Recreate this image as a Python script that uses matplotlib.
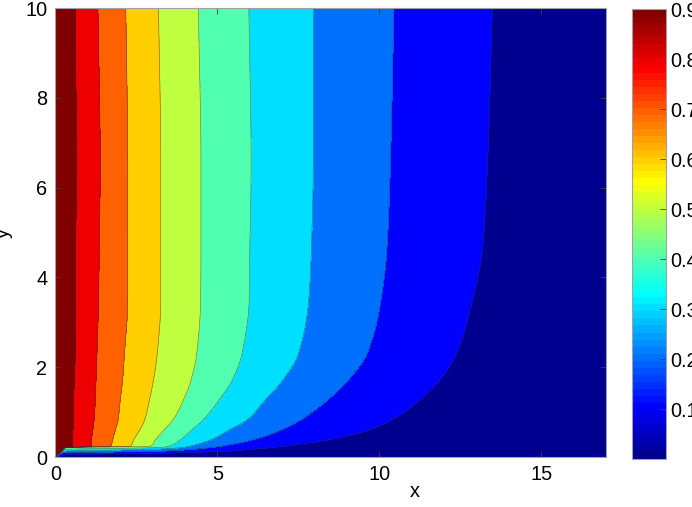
import numpy as np
import matplotlib
matplotlib.use("Agg")
import matplotlib.pyplot as plt
from matplotlib.colors import ListedColormap, Normalize
from matplotlib.cm import ScalarMappable

plt.rcParams["font.family"] = ["Liberation Sans", "DejaVu Sans"]

# contour levels and the y rows at which the contour x-positions were read
levels = [0.0, 0.1, 0.2, 0.3, 0.4, 0.5, 0.6, 0.7, 0.8, 0.9, 1.0]
row_y = [0.0, 0.05, 0.09, 0.13, 0.17, 0.21, 0.24, 0.38, 0.6, 0.82, 1.27, 1.7, 2.3, 3.5, 4.6, 6.5, 10.0]

# x position of each contour line along the rows above
x_09 = [0.000, 0.050, 0.10, 0.16, 0.21, 0.26, 0.52, 0.53, 0.54, 0.55, 0.56, 0.58, 0.61, 0.63, 0.63, 0.64, 0.62]
x_08 = [0.001, 0.055, 0.11, 0.17, 0.22, 0.28, 1.10, 1.11, 1.15, 1.19, 1.23, 1.25, 1.28, 1.33, 1.35, 1.38, 1.31]
x_07 = [0.002, 0.060, 0.12, 0.18, 0.23, 0.30, 1.70, 1.76, 1.85, 1.93, 2.00, 2.07, 2.13, 2.23, 2.23, 2.23, 2.17]
x_06 = [0.003, 0.065, 0.13, 0.19, 0.24, 0.32, 2.30, 2.41, 2.60, 2.75, 2.90, 3.02, 3.14, 3.25, 3.25, 3.25, 3.18]
x_05 = [0.004, 0.070, 0.14, 0.20, 0.25, 0.34, 2.93, 3.08, 3.35, 3.62, 3.95, 4.18, 4.36, 4.48, 4.49, 4.49, 4.41]
x_04 = [0.005, 0.075, 0.15, 0.21, 0.27, 3.20, 3.50, 3.85, 4.20, 4.55, 5.05, 5.45, 5.76, 5.98, 6.00, 6.04, 5.97]
x_03 = [0.006, 0.080, 0.16, 0.23, 3.00, 3.90, 4.15, 4.78, 5.35, 5.90, 6.47, 7.00, 7.50, 7.82, 7.90, 7.96, 7.97]
x_02 = [0.007, 0.085, 0.20, 3.30, 4.20, 4.80, 5.10, 6.07, 6.95, 7.55, 8.40, 9.02, 9.62, 10.05, 10.23, 10.34, 10.45]
x_01 = [0.008, 0.300, 3.60, 5.30, 6.00, 6.70, 7.05, 8.40, 9.65, 10.35, 11.25, 11.85, 12.38, 12.88, 13.18, 13.34, 13.49]

x_max = 17.0
y_max = 10.0
cbar_ticks = [0.1, 0.2, 0.3, 0.4, 0.5, 0.6, 0.7, 0.8, 0.9]


def matlab_jet(n=64):
    m = n // 4
    u = np.concatenate([np.arange(1, m + 1) / m, np.ones(m - 1), np.arange(m, 0, -1) / m])
    g = int(np.ceil(m / 2)) - (1 if n % 4 == 1 else 0) + np.arange(len(u))
    r = g + m
    b = g - m
    cmap = np.zeros((n, 3))
    cmap[r[r < n], 0] = u[r < n]
    cmap[g[g < n], 1] = u[g < n]
    cmap[b[b >= 0], 2] = u[b >= 0]
    return cmap


def pchip(xk, yk, xq):
    """Shape preserving cubic through the read points (keeps the curves smooth)."""
    xk = np.asarray(xk, float)
    yk = np.asarray(yk, float)
    h = np.diff(xk)
    d = np.diff(yk) / h
    m = np.zeros_like(yk)
    m[0], m[-1] = d[0], d[-1]
    for k in range(1, len(xk) - 1):
        if d[k - 1] * d[k] > 0:
            w1 = 2 * h[k] + h[k - 1]
            w2 = h[k] + 2 * h[k - 1]
            m[k] = (w1 + w2) / (w1 / d[k - 1] + w2 / d[k])
    i = np.clip(np.searchsorted(xk, xq) - 1, 0, len(h) - 1)
    t = (xq - xk[i]) / h[i]
    h00 = 2 * t**3 - 3 * t**2 + 1
    h10 = t**3 - 2 * t**2 + t
    h01 = -2 * t**3 + 3 * t**2
    h11 = t**3 - t**2
    return h00 * yk[i] + h10 * h[i] * m[i] + h01 * yk[i + 1] + h11 * h[i] * m[i + 1]


jet64 = matlab_jet(64)
cmap = ListedColormap(jet64)
norm = Normalize(0.0, 0.9)

# rebuild the field from the read contour positions
contour_x = [x_09, x_08, x_07, x_06, x_05, x_04, x_03, x_02, x_01]
contour_levels = np.array([0.9, 0.8, 0.7, 0.6, 0.5, 0.4, 0.3, 0.2, 0.1])
xs = np.linspace(0, x_max, 700)
ys = np.unique(np.concatenate([np.linspace(0, 0.4, 161), np.linspace(0.4, y_max, 400)]))
pos_by_level = np.array([pchip(row_y, cx, ys) for cx in contour_x])
Z = np.zeros((len(ys), len(xs)))
for i in range(len(ys)):
    pos = np.maximum.accumulate(pos_by_level[:, i]) + np.arange(9) * 1e-4
    Z[i] = np.interp(xs, np.concatenate([[0.0], pos, [x_max]]),
                     np.concatenate([[1.0], contour_levels, [0.0]]))

band_colors = [jet64[min(int(lv / 0.9 * 64), 63)] for lv in levels[:-1]]

fig = plt.figure(figsize=(6.92, 5.07), dpi=100)
ax = fig.add_axes([0.0802, 0.0986, 0.7955, 0.8856])
ax.contourf(xs, ys, Z, levels=levels, colors=band_colors)
ax.contour(xs, ys, Z, levels=levels[1:-1], colors="#303030", linewidths=0.4, alpha=0.7)

ax.set_xlim(0, x_max)
ax.set_ylim(0, y_max)
ax.set_xticks([0, 5, 10, 15])
ax.set_yticks([0, 2, 4, 6, 8, 10])
ax.tick_params(direction="in", length=4, width=0.6, color="#404040", labelsize=14.3,
               top=True, right=True, pad=6)
for spine in ax.spines.values():
    spine.set_color("#a0a0a8")
    spine.set_linewidth(0.8)
ax.set_xlabel("x", fontsize=14.3)
ax.set_ylabel("y", fontsize=14.3)
ax.xaxis.set_label_coords(0.653, -0.055)
ax.yaxis.set_label_coords(-0.077, 0.5)

cax = fig.add_axes([0.9137, 0.0947, 0.0483, 0.887])
cb = fig.colorbar(ScalarMappable(norm=norm, cmap=cmap), cax=cax, ticks=cbar_ticks)
cb.ax.tick_params(direction="in", length=4, width=0.6, color="#404040", labelsize=14.3, pad=3)
cb.ax.set_yticklabels([f"{t:.1f}" for t in cbar_ticks])
cb.outline.set_edgecolor("#a0a0a8")
cb.outline.set_linewidth(0.8)

fig.savefig("out.png", dpi=100)
